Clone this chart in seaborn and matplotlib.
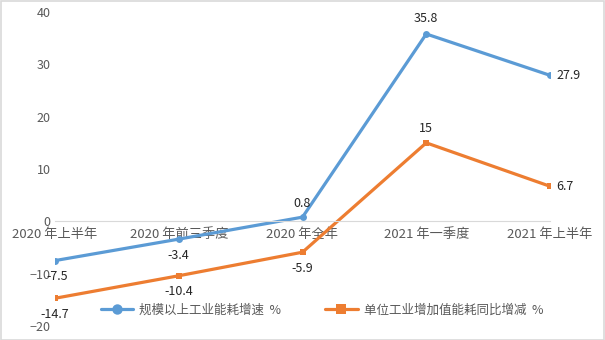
import matplotlib
matplotlib.use("Agg")
import matplotlib.pyplot as plt
import seaborn as sns
import pandas as pd
from matplotlib.patches import Rectangle

periods = ["2020 年上半年", "2020 年前三季度", "2020 年全年", "2021 年一季度", "2021 年上半年"]
energy_growth = [-7.5, -3.4, 0.8, 35.8, 27.9]
intensity_change = [-14.7, -10.4, -5.9, 15, 6.7]
series_names = ["规模以上工业能耗增速  %", "单位工业增加值能耗同比增减  %"]
y_ticks = [-20, -10, 0, 10, 20, 30, 40]

sns.set_theme(style="white")
plt.rcParams["font.family"] = ["Noto Sans CJK SC", "DejaVu Sans"]

df = pd.DataFrame({
    "period": periods * 2,
    "value": energy_growth + intensity_change,
    "series": [series_names[0]] * len(periods) + [series_names[1]] * len(periods),
})

blue = "#5B9BD5"
orange = "#ED7D31"
grey = "#595959"

fig = plt.figure(figsize=(6.05, 3.4), dpi=100)
ax = fig.add_axes([55 / 605, 14 / 340, 495 / 605, 314 / 340])

sns.lineplot(data=df, x="period", y="value", hue="series", style="series",
             palette=[blue, orange], markers=["o", "s"], dashes=False,
             markersize=5, markeredgewidth=0, linewidth=2.3, sort=False,
             legend=True, ax=ax)

ax.set_xlim(0, 4)
ax.set_ylim(-20, 40)
ax.set_yticks(y_ticks)
ax.set_xlabel("")
ax.set_ylabel("")
for s in ["top", "right", "left"]:
    ax.spines[s].set_visible(False)
ax.spines["bottom"].set_position(("data", 0))
ax.spines["bottom"].set_color("#D9D9D9")
ax.spines["bottom"].set_linewidth(0.8)
ax.tick_params(axis="both", length=0, colors=grey, labelsize=9)
ax.tick_params(axis="x", pad=5, labelsize=9.5)
ax.tick_params(axis="y", pad=3)
ax.set_facecolor("none")

# data labels
def put(x, y, text, dx=0, dy=0, ha="center"):
    ax.annotate(text, (x, y), xytext=(dx, dy), textcoords="offset pixels",
                ha=ha, va="center", fontsize=9, color="#262626")

blue_offsets = [(2, -16, "center"), (0, -16, "center"), (0, 14, "center"),
                (0, 15, "center"), (6, 0, "left")]
orange_offsets = [(0, -16, "center"), (0, -16, "center"), (0, -16, "center"),
                  (0, 14, "center"), (6, 0, "left")]
for i, v in enumerate(energy_growth):
    dx, dy, ha = blue_offsets[i]
    put(i, v, f"{v:g}", dx, dy, ha)
for i, v in enumerate(intensity_change):
    dx, dy, ha = orange_offsets[i]
    put(i, v, f"{v:g}", dx, dy, ha)

handles, labels = ax.get_legend_handles_labels()
ax.legend_.remove()
leg = fig.legend(handles, labels, loc="center", bbox_to_anchor=(322 / 605, 1 - 310 / 340),
                 ncol=2, frameon=False, fontsize=9, handlelength=2.6,
                 columnspacing=3.5, handletextpad=0.5, labelcolor=grey,
                 markerscale=1.5)

# chart border
fig.patches.append(Rectangle((0.5 / 605, 0.5 / 340), 1 - 1.5 / 605, 1 - 1.5 / 340,
                             transform=fig.transFigure, fill=False,
                             edgecolor="#D9D9D9", linewidth=1.2))

fig.savefig("out.png", dpi=100)
